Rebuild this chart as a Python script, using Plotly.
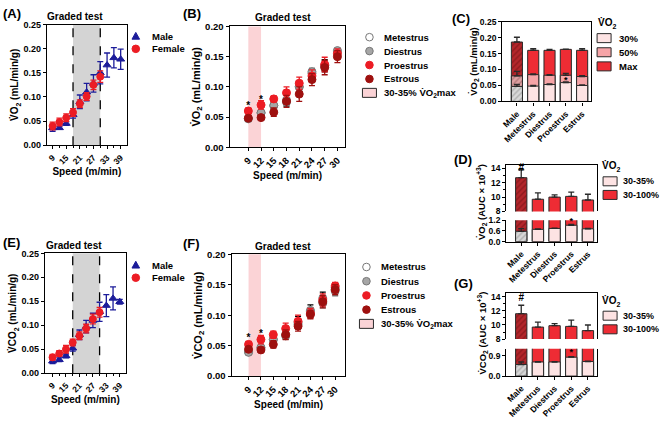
import plotly.graph_objects as go

W, H = 660, 421

# ---------------- data ----------------
# (A) / (E) graded test, male vs female
speed_male = [9, 12, 15, 18, 21, 24, 27, 30, 33, 36, 39]
speed_female = [9, 12, 15, 18, 21, 24, 27, 30]
speed_labels_ae = [9, 15, 21, 27, 33, 39]
zone_ae = [18, 30]

vo2_male = [0.036, 0.036, 0.045, 0.063, 0.090, 0.110, 0.128, 0.150, 0.166, 0.181, 0.178]
vo2_male_sem = [0.007, 0.003, 0.004, 0.007, 0.014, 0.018, 0.018, 0.023, 0.025, 0.021, 0.021]
vo2_female = [0.040, 0.048, 0.057, 0.068, 0.086, 0.101, 0.125, 0.142]
vo2_female_sem = [0.008, 0.008, 0.008, 0.008, 0.008, 0.008, 0.010, 0.012]

vco2_male = [0.025, 0.028, 0.036, 0.052, 0.080, 0.097, 0.110, 0.128, 0.141, 0.156, 0.149]
vco2_male_sem = [0.005, 0.004, 0.004, 0.006, 0.010, 0.013, 0.015, 0.020, 0.023, 0.024, 0.005]
vco2_female = [0.033, 0.041, 0.050, 0.064, 0.078, 0.093, 0.113, 0.127]
vco2_female_sem = [0.006, 0.006, 0.008, 0.007, 0.008, 0.009, 0.010, 0.010]

# (B) / (F) graded test by estrous phase
speed_phase = [9, 12, 15, 18, 21, 24, 27, 30]
zone_bf = [9, 12]

vo2_met = [0.048, 0.057, 0.069, 0.078, 0.100, 0.122, 0.135, 0.158]
vo2_met_sem = [0.004, 0.005, 0.005, 0.010, 0.008, 0.008, 0.010, 0.005]
vo2_die = [0.047, 0.057, 0.069, 0.075, 0.100, 0.125, 0.135, 0.160]
vo2_die_sem = [0.004, 0.004, 0.004, 0.006, 0.006, 0.006, 0.008, 0.004]
vo2_pro = [0.060, 0.070, 0.080, 0.090, 0.106, 0.118, 0.137, 0.155]
vo2_pro_sem = [0.005, 0.007, 0.005, 0.010, 0.010, 0.010, 0.012, 0.008]
vo2_est = [0.048, 0.049, 0.058, 0.076, 0.088, 0.112, 0.132, 0.150]
vo2_est_sem = [0.003, 0.003, 0.007, 0.010, 0.012, 0.010, 0.012, 0.010]
star_speed = [9, 12]
star_vo2 = [0.067, 0.077]

vco2_met = [0.040, 0.046, 0.060, 0.068, 0.088, 0.108, 0.128, 0.145]
vco2_met_sem = [0.003, 0.004, 0.004, 0.007, 0.010, 0.009, 0.010, 0.008]
vco2_die = [0.039, 0.047, 0.060, 0.066, 0.085, 0.106, 0.120, 0.140]
vco2_die_sem = [0.003, 0.003, 0.004, 0.005, 0.006, 0.006, 0.008, 0.008]
vco2_pro = [0.052, 0.060, 0.068, 0.078, 0.090, 0.103, 0.125, 0.148]
vco2_pro_sem = [0.005, 0.007, 0.006, 0.009, 0.010, 0.008, 0.010, 0.006]
vco2_est = [0.044, 0.043, 0.052, 0.068, 0.082, 0.101, 0.122, 0.142]
vco2_est_sem = [0.004, 0.003, 0.006, 0.008, 0.008, 0.007, 0.010, 0.008]
star_vco2 = [0.061, 0.069]

# (C) VO2 at 30%, 50% and max
groups = ["Male", "Metestrus", "Diestrus", "Proestrus", "Estrus"]
vo2_30 = [0.047, 0.048, 0.053, 0.059, 0.050]
vo2_30_sem = [0.006, 0.002, 0.002, 0.002, 0.002]
vo2_50 = [0.080, 0.084, 0.082, 0.082, 0.078]
vo2_50_sem = [0.014, 0.002, 0.002, 0.006, 0.003]
vo2_max = [0.186, 0.160, 0.160, 0.163, 0.160]
vo2_max_sem = [0.015, 0.005, 0.003, 0.001, 0.005]
star_c_group = ["Proestrus"]
star_c_y = [0.066]

# (D) / (G) AUC
vo2_auc_total = [12.7, 9.7, 10.0, 10.1, 9.6]
vo2_auc_total_sem = [1.1, 0.9, 0.3, 0.6, 0.8]
vo2_auc_low = [0.58, 0.69, 0.74, 0.92, 0.72]
vo2_auc_low_sem = [0.15, 0.03, 0.02, 0.05, 0.02]
vco2_auc_total = [11.6, 9.7, 9.9, 9.8, 9.2]
vco2_auc_total_sem = [1.2, 0.7, 0.3, 0.9, 0.8]
vco2_auc_low = [0.51, 0.62, 0.62, 0.83, 0.64]
vco2_auc_low_sem = [0.11, 0.02, 0.02, 0.03, 0.02]
hash_group = ["Male"]
hash_d_y = [14.0]
hash_g_y = [13.8]
star_d_y = [1.12]
star_g_y = [1.02]

# ---------------- style ----------------
BLUE = "#1c1c9a"
RED = "#ec1c24"
DARKRED = "#9e100f"
GRAY = "#a6a6a6"
BAR_RED = "#ee2c34"
BAR_PINK = "#f6a4a7"
BAR_LIGHT = "#fde3e3"
BAND_PINK = "#fbd3d6"
EDGE = "#2a2a2a"
VO2 = "V\u0307O<sub>2</sub>"
VCO2 = "V\u0307CO<sub>2</sub>"

AX = dict(showline=True, linecolor="black", linewidth=1.3, mirror=True,
          ticks="outside", ticklen=3, tickwidth=1.2, tickcolor="black",
          showgrid=False, zeroline=False, tickfont=dict(size=9))


def xa(left, right, **kw):
    d = dict(AX, domain=[left / W, right / W])
    d.update(kw)
    return d


def ya(top, bottom, **kw):
    d = dict(AX, domain=[1 - bottom / H, 1 - top / H])
    d.update(kw)
    return d


fig = go.Figure()


def points(x, y, err, fill, edge, errcol, xref, yref, symbol="circle", size=7):
    fig.add_trace(go.Scatter(
        x=x, y=y, mode="markers", xaxis=xref, yaxis=yref,
        marker=dict(symbol=symbol, size=size, color=fill, line=dict(color=edge, width=1)),
        error_y=dict(type="data", array=err, color=errcol, thickness=1.3, width=3),
    ))


def marks(x, y, text, xref, yref, size=10):
    fig.add_trace(go.Scatter(x=x, y=y, mode="text", text=[text] * len(x),
                             xaxis=xref, yaxis=yref, cliponaxis=False,
                             textfont=dict(size=size, color="black")))


def up(err):
    return dict(type="data", symmetric=False, array=err, arrayminus=[0 for _ in err],
                color=EDGE, thickness=1.3, width=3)


def bars(x, y, err, color, xref, yref, hatch=None):
    pattern = dict(shape="/", fgcolor=hatch, size=4, solidity=0.35) if hatch else None
    fig.add_trace(go.Bar(
        x=x, y=y, xaxis=xref, yaxis=yref, width=0.68,
        marker=dict(color=color, line=dict(color=EDGE, width=1), pattern=pattern),
        error_y=up(err) if err is not None else None,
    ))


# (A) and (E)
for xr, yr, m, ms, f, fs in [
    ("x", "y", vo2_male, vo2_male_sem, vo2_female, vo2_female_sem),
    ("x6", "y6", vco2_male, vco2_male_sem, vco2_female, vco2_female_sem),
]:
    points(speed_male, m, ms, BLUE, BLUE, BLUE, xr, yr, "triangle-up")
    points(speed_female, f, fs, RED, RED, RED, xr, yr)

# (B) and (F)
phase_styles = [("white", "#777777", "black"), (GRAY, "#777777", "#777777"),
                (RED, RED, RED), (DARKRED, DARKRED, DARKRED)]
for xr, yr, series, stars in [
    ("x2", "y2",
     [(vo2_met, vo2_met_sem), (vo2_die, vo2_die_sem), (vo2_pro, vo2_pro_sem), (vo2_est, vo2_est_sem)],
     star_vo2),
    ("x7", "y7",
     [(vco2_met, vco2_met_sem), (vco2_die, vco2_die_sem), (vco2_pro, vco2_pro_sem), (vco2_est, vco2_est_sem)],
     star_vco2),
]:
    for (vals, sem), (fill, edge, ec) in zip(series, phase_styles):
        points(speed_phase, vals, sem, fill, edge, ec, xr, yr, size=8)
    marks(star_speed, stars, "*", xr, yr)

# (C) overlapping bars: max behind, then 50%, then 30%
bars(groups[:1], vo2_max[:1], vo2_max_sem[:1], "#b3262b", "x3", "y3", "#6a0d10")
bars(groups[1:], vo2_max[1:], vo2_max_sem[1:], BAR_RED, "x3", "y3")
bars(groups[:1], vo2_50[:1], vo2_50_sem[:1], "#dda0a2", "x3", "y3", "#8e5456")
bars(groups[1:], vo2_50[1:], vo2_50_sem[1:], BAR_PINK, "x3", "y3")
bars(groups[:1], vo2_30[:1], vo2_30_sem[:1], "#d8d8d8", "x3", "y3", "#858585")
bars(groups[1:], vo2_30[1:], vo2_30_sem[1:], BAR_LIGHT, "x3", "y3")
marks(star_c_group, star_c_y, "*", "x3", "y3", 9)

# (D) and (G): broken axis, upper and lower segment
for (xt, yt, xb, yb, tot, tots, low, lows, hy, sy) in [
    ("x4", "y4", "x5", "y5", vo2_auc_total, vo2_auc_total_sem, vo2_auc_low, vo2_auc_low_sem,
     hash_d_y, star_d_y),
    ("x8", "y8", "x9", "y9", vco2_auc_total, vco2_auc_total_sem, vco2_auc_low, vco2_auc_low_sem,
     hash_g_y, star_g_y),
]:
    bars(groups[:1], tot[:1], tots[:1], "#b3262b", xt, yt, "#6a0d10")
    bars(groups[1:], tot[1:], tots[1:], BAR_RED, xt, yt)
    bars(groups[:1], tot[:1], None, "#b3262b", xb, yb, "#6a0d10")
    bars(groups[1:], tot[1:], None, BAR_RED, xb, yb)
    bars(groups[:1], low[:1], lows[:1], "#d8d8d8", xb, yb, "#858585")
    bars(groups[1:], low[1:], lows[1:], BAR_LIGHT, xb, yb)
    marks(hash_group, hy, "#", xt, yt, 10)
    marks(star_c_group, sy, "*", xb, yb, 9)

# ---------------- axes ----------------
speed_title = dict(text="Speed (m/min)", font=dict(size=10), standoff=1)
speed_minor = dict(tickvals=speed_male, ticks="outside", ticklen=2, tickcolor="black")
cat_x = dict(type="category", categoryorder="array", categoryarray=groups, range=[-0.9, 4.55])
top_x = dict(cat_x, side="top", mirror=False, ticks="", showticklabels=False)
bot_x = dict(cat_x, mirror=False, tickangle=-45, tickfont=dict(size=8.5))
minor1 = dict(dtick=1, ticks="outside", ticklen=2, tickcolor="black")
auc_font = dict(size=8.5)


def ytitle(text, size=10):
    return dict(text=text, font=dict(size=size), standoff=2)


layout_axes = dict(
    xaxis=xa(46, 126, anchor="y", range=[6.5, 41.7], tickvals=speed_labels_ae, minor=speed_minor,
             tickangle=-45, tickfont=dict(size=8.5), title=speed_title),
    yaxis=ya(19, 143, anchor="x", range=[0, 0.25], dtick=0.05, tickformat=".2f",
             title=ytitle(VO2 + " (mL/min/g)")),
    xaxis2=xa(229, 345, anchor="y2", range=[4.6, 31.9], tickvals=speed_phase, tickangle=-45,
              title=speed_title, tickfont=dict(size=9.5)),
    yaxis2=ya(21, 145, anchor="x2", range=[0, 0.20], dtick=0.05, tickformat=".2f",
              tickfont=dict(size=9.5), title=ytitle(VO2 + " (mL/min/g)", 11)),
    xaxis3=xa(502, 591, anchor="y3", tickangle=-45, **dict(cat_x, tickfont=dict(size=8.5))),
    yaxis3=ya(16, 98, anchor="x3", range=[0, 0.25], dtick=0.05, tickformat=".2f",
              tickfont=dict(size=8.5), title=dict(text=VO2 + " (mL/min/g)", font=dict(size=9.5), standoff=0)),
    xaxis4=xa(506, 597, anchor="y4", **top_x),
    yaxis4=ya(163, 211, anchor="x4", range=[8, 14.5], tickvals=[8, 10, 12, 14], minor=minor1,
              tickfont=auc_font),
    xaxis5=xa(506, 597, anchor="y5", **bot_x),
    yaxis5=ya(220, 242, anchor="x5", range=[0, 1.2], dtick=0.6, tickformat=".1f", tickfont=auc_font),
    xaxis6=xa(44, 125, anchor="y6", range=[5.6, 41.7], tickvals=speed_labels_ae, minor=speed_minor,
              tickangle=-45, tickfont=dict(size=8.5), title=speed_title),
    yaxis6=ya(254, 377, anchor="x6", range=[0, 0.25], dtick=0.05, tickformat=".2f",
              title=ytitle(VCO2 + " (mL/min/g)")),
    xaxis7=xa(231, 345, anchor="y7", range=[4.9, 32.5], tickvals=speed_phase, tickangle=-45,
              title=speed_title, tickfont=dict(size=9.5)),
    yaxis7=ya(255, 380, anchor="x7", range=[0, 0.20], dtick=0.05, tickformat=".2f",
              tickfont=dict(size=9.5), title=ytitle(VCO2 + " (mL/min/g)", 11)),
    xaxis8=xa(506, 597, anchor="y8", **top_x),
    yaxis8=ya(295, 342, anchor="x8", range=[8, 14.5], tickvals=[8, 10, 12, 14], minor=minor1,
              tickfont=auc_font),
    xaxis9=xa(506, 597, anchor="y9", **bot_x),
    yaxis9=ya(352, 380, anchor="x9", range=[0, 1.2], tickvals=[0, 0.9], tickformat=".1f",
              tickfont=auc_font),
)

# ---------------- shapes, labels, legend keys ----------------
shapes = []
for xr, yr in [("x", "y"), ("x6", "y6")]:
    shapes.append(dict(type="rect", xref=xr, yref=yr + " domain", x0=zone_ae[0], x1=zone_ae[1],
                       y0=0, y1=1, fillcolor="#d4d4d4", line=dict(width=0), layer="below"))
    for z in zone_ae:
        shapes.append(dict(type="line", xref=xr, yref=yr + " domain", x0=z, x1=z, y0=0, y1=1,
                           line=dict(color="black", width=1.3, dash="dash"), layer="below"))
for xr, yr in [("x2", "y2"), ("x7", "y7")]:
    shapes.append(dict(type="rect", xref=xr, yref=yr + " domain", x0=zone_bf[0], x1=zone_bf[1],
                       y0=0, y1=1, fillcolor=BAND_PINK, line=dict(width=0), layer="below"))

annotations = []


def label(text, x, y, size=13, xanchor="left", **kw):
    annotations.append(dict(text=text, x=x / W, y=1 - y / H, xref="paper", yref="paper",
                            showarrow=False, xanchor=xanchor, yanchor="middle",
                            font=dict(size=size), **kw))


for txt, x, y in [("(A)", 0, 8), ("(B)", 180, 8), ("(C)", 450, 13), ("(D)", 452, 158),
                  ("(E)", 0, 243), ("(F)", 180, 244), ("(G)", 452, 285)]:
    label(txt, x, y)
for x, y in [(74, 11), (282, 12), (73, 246), (282, 247)]:
    label("Graded test", x, y, 10, "center")
label(VO2 + " (AUC \u00d7 10<sup>+3</sup>)", 481, 201, 9.5, "center", textangle=-90)
label(VCO2 + " (AUC \u00d7 10<sup>+3</sup>)", 482, 336, 9.5, "center", textangle=-90)


def key_marker(x, y, fill, edge, kind):
    common = dict(xref="paper", yref="paper", xsizemode="pixel", ysizemode="pixel",
                  xanchor=x / W, yanchor=1 - y / H, fillcolor=fill, line=dict(color=edge, width=1))
    if kind == "triangle":
        shapes.append(dict(type="path", path="M-3.8,-3 L3.8,-3 L0,3.8 Z", **common))
    elif kind == "box":
        shapes.append(dict(type="rect", x0=-7, x1=7, y0=-4.5, y1=4.5, **common))
    else:
        shapes.append(dict(type="circle", x0=-3.8, x1=3.8, y0=-3.8, y1=3.8, **common))


def key_block(entries, x_sym, y0, step, x_text, size=9.5, title=None):
    if title:
        label(title[0], title[1], title[2], 10)
    for i, (text, kind, fill, edge) in enumerate(entries):
        key_marker(x_sym, y0 + i * step, fill, edge, kind)
        label(text, x_text, y0 + i * step, size)


ae_keys = [("Male", "triangle", BLUE, BLUE), ("Female", "circle", RED, RED)]
bf_keys = [("Metestrus", "circle", "white", "#777777"), ("Diestrus", "circle", GRAY, "#777777"),
           ("Proestrus", "circle", RED, RED), ("Estrous", "circle", DARKRED, DARKRED),
           ("30-35% " + VO2 + "max", "box", BAND_PINK, EDGE)]
c_keys = [("30%", "box", BAR_LIGHT, EDGE), ("50%", "box", BAR_PINK, EDGE), ("Max", "box", BAR_RED, EDGE)]
dg_keys = [("30-35%", "box", BAR_LIGHT, EDGE), ("30-100%", "box", BAR_RED, EDGE)]

key_block(ae_keys, 135, 31, 13, 149)
key_block(ae_keys, 135, 266, 13, 149)
key_block(bf_keys, 369, 32, 14.3, 382)
key_block(bf_keys, 366, 268, 14.6, 379)
key_block(c_keys, 604, 33, 14.5, 617, 9.5, (VO2, 596, 18))
key_block(dg_keys, 610, 180, 14, 621, 9, (VO2, 600, 165))
key_block(dg_keys, 610, 318, 14, 621, 9, (VO2, 600, 303))

fig.update_layout(
    width=W, height=H, margin=dict(l=0, r=0, t=0, b=0),
    paper_bgcolor="white", plot_bgcolor="white", showlegend=False,
    font=dict(family="Liberation Sans, Arial, sans-serif", size=9, color="black", weight="bold"),
    barmode="overlay",
    shapes=shapes, annotations=annotations,
    **layout_axes,
)

fig.write_html("out.html", config={"displayModeBar": False},
               post_script="document.body.style.margin='0';")
